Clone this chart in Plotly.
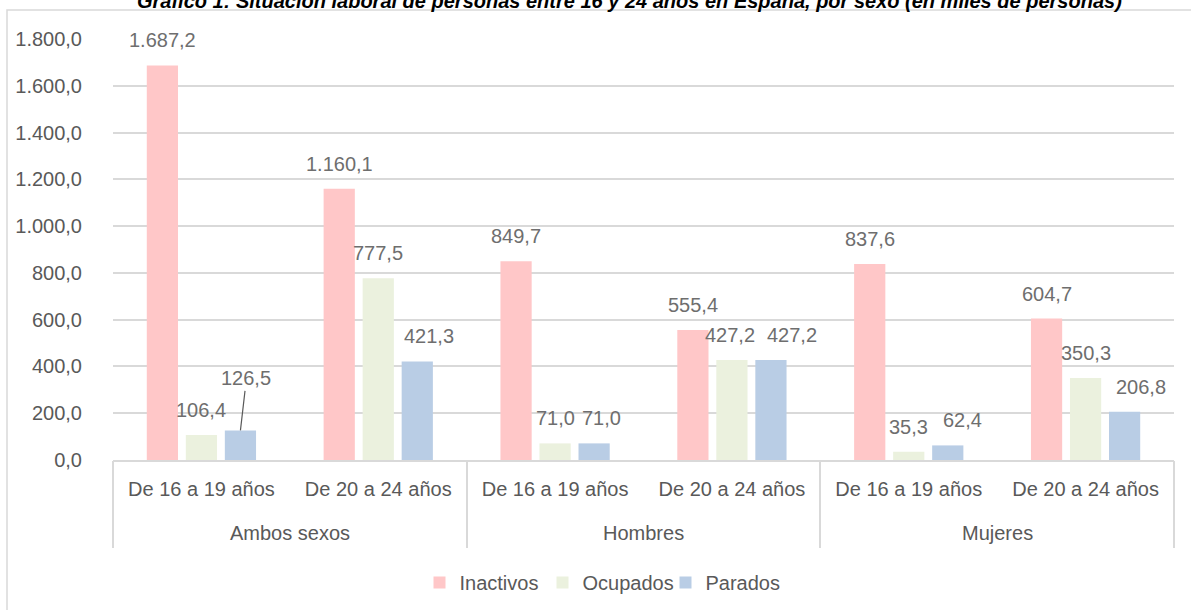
import plotly.graph_objects as go

groups = ["Ambos sexos", "Ambos sexos", "Hombres", "Hombres", "Mujeres", "Mujeres"]
ages = ["De 16 a 19 años", "De 20 a 24 años"] * 3
inactivos = [1687.2, 1160.1, 849.7, 555.4, 837.6, 604.7]
ocupados = [106.4, 777.5, 71.0, 427.2, 35.3, 350.3]
parados = [126.5, 421.3, 71.0, 427.2, 62.4, 206.8]
series_names = ["Inactivos", "Ocupados", "Parados"]
series_values = [inactivos, ocupados, parados]
colors = ["#FFC7C8", "#EBF1DE", "#B9CDE5"]
title = "Gráfico 1: Situación laboral de personas entre 16 y 24 años en España, por sexo (en miles de personas)"

FONT = "Liberation Sans, Arial, sans-serif"
FS = 20
W, H = 1191, 610
ML, MR, MT, MB = 113, 17, 39, 150
PW, PH = W - ML - MR, H - MT - MB
BARGAP, GROUPGAP = 0.338, 0.2
group_names = list(dict.fromkeys(groups))

# label nudges (series index, point index) -> (dx, dy) in px, as placed by hand in the original
nudges = {(2, 1): (12, 0), (2, 2): (7, 0), (1, 3): (-2, 0), (2, 3): (21, 0), (2, 4): (15, 0), (2, 5): (16, 0)}
leader = (2, 0)  # label pulled up with a leader line


def fmt(v):
    return f"{v:,.1f}".replace(",", "X").replace(".", ",").replace("X", ".")


fig = go.Figure()
for name, vals, col in zip(series_names, series_values, colors):
    fig.add_trace(go.Bar(
        x=[groups, ages], y=vals, name=name,
        marker=dict(color=col, line=dict(width=0)),
        hovertemplate="%{y:,.1f}<extra>" + name + "</extra>",
    ))

slot = PW / len(ages) * (1 - BARGAP) / len(series_names)
for si, vals in enumerate(series_values):
    for pi, v in enumerate(vals):
        dx, dy = nudges.get((si, pi), (0, 0))
        common = dict(x=pi, y=v, xref="x", yref="y", text=fmt(v),
                      font=dict(family=FONT, size=FS, color="#6E6E6E"))
        if (si, pi) == leader:
            fig.add_annotation(**common, xshift=(si - 1) * slot, showarrow=True, arrowhead=0,
                               arrowwidth=1.2, arrowcolor="#595959", ax=6, ay=-52, standoff=0)
        else:
            fig.add_annotation(**common, xshift=(si - 1) * slot + dx, yshift=12 - dy,
                               yanchor="bottom", showarrow=False)

# helper traces so the overlay axes are drawn
fig.add_trace(go.Scatter(
    x=group_names, y=[0] * len(group_names), xaxis="x2", mode="markers",
    marker=dict(color="rgba(0,0,0,0)"), showlegend=False, hoverinfo="skip",
))
fig.add_trace(go.Scatter(
    x=list(range(len(ages))), y=[0] * len(ages), xaxis="x3", mode="markers",
    marker=dict(color="rgba(0,0,0,0)"), showlegend=False, hoverinfo="skip",
))

for g in group_names:
    fig.add_annotation(x=g, xref="x2", y=-73 / PH, yref="paper", yanchor="middle",
                       text=g, showarrow=False, font=dict(family=FONT, size=FS, color="#595959"))

fig.add_annotation(
    text=f"<b><i>{title}</i></b>", xref="paper", yref="paper",
    x=(629 - ML) / PW, y=1 + (MT - 14) / PH, xanchor="center", yanchor="bottom",
    showarrow=False, font=dict(family=FONT, size=20, color="#000000"),
)

fig.add_shape(
    type="rect", xref="paper", yref="paper",
    x0=(7 - ML) / PW, x1=1.2, y0=-0.5, y1=1 + (MT - 10) / PH,
    line=dict(color="#D9D9D9", width=1.5), fillcolor="rgba(0,0,0,0)", layer="below",
)

fig.update_layout(
    width=W, height=H,
    margin=dict(l=ML, r=MR, t=MT, b=MB, autoexpand=False),
    paper_bgcolor="white", plot_bgcolor="white",
    barmode="group", bargap=BARGAP, bargroupgap=GROUPGAP,
    separators=",.",
    font=dict(family=FONT, size=FS, color="#595959"),
    legend=dict(orientation="h", x=(604 - ML) / PW, xanchor="center", y=-0.291, yanchor="middle",
                font=dict(family=FONT, size=FS, color="#595959"), itemwidth=30,
                entrywidth=78, entrywidthmode="pixels"),
    showlegend=True,
    xaxis=dict(
        type="multicategory", showline=True, linecolor="#D9D9D9", linewidth=1.5,
        showdividers=False, showticklabels=False, ticks="", automargin=False,
    ),
    xaxis3=dict(
        overlaying="x", anchor="y", side="bottom", range=[-0.5, len(ages) - 0.5],
        tickmode="array", tickvals=list(range(len(ages))), ticktext=ages,
        showgrid=False, zeroline=False, ticks="", ticklabelstandoff=15, automargin=False,
        tickfont=dict(family=FONT, size=FS, color="#595959"),
    ),
    xaxis2=dict(
        overlaying="x", anchor="y", side="bottom", type="category",
        categoryarray=group_names, range=[-0.5, len(group_names) - 0.5],
        tickson="boundaries", ticks="outside", ticklen=87, tickwidth=1.5, tickcolor="#D9D9D9",
        showticklabels=False, showgrid=False, zeroline=False, automargin=False,
    ),
    yaxis=dict(
        range=[0, 1800], dtick=200, tickformat=",.1f",
        showgrid=True, gridcolor="#D9D9D9", gridwidth=1.5,
        zeroline=False, showline=False, ticks="", ticklabelstandoff=30, automargin=False,
        tickfont=dict(family=FONT, size=FS, color="#595959"),
    ),
)

# remove the browser's default 8px body margin so the chart fills the window exactly
fig.write_html("out.html", config={"displayModeBar": False},
               post_script="document.body.style.margin='0';")
